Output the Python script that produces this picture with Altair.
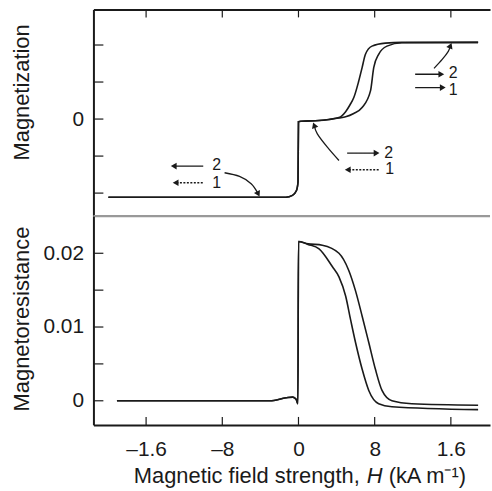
import altair as alt
import pandas as pd

FONT = "Liberation Sans"
INK = "#1a1a1a"

# ---------------- axes ----------------
x_domain = [-21.53, 20.11]
x_tick_values = [-16, -8, 0, 8, 16]
x_tick_labels = ["\u20131.6", "\u20138", "0", "8", "1.6"]
x_title_parts = ["Magnetic field strength,", "H", "(kA m\u207b\u00b9)"]

m_domain = [-2.623, 2.961]
m_tick_values = [-2, -1, 0, 1, 2]
m_label_values = [0]

mr_domain = [-0.00327, 0.02503]
mr_tick_values = [0, 0.005, 0.01, 0.015, 0.02]
mr_label_values = [0, 0.01, 0.02]

# ---------------- magnetization curves ----------------
mag_h_1 = [-19.96, -5.0, -1.32, -0.63, -0.21, -0.05, 0.0, 0.3, 2.16, 3.2, 4.25, 4.95, 5.4, 5.81, 6.3, 6.68, 7.03, 7.72, 9.12, 10.86, 18.86]
mag_m_1 = [-2.11, -2.11, -2.11, -2.06, -1.93, -1.70, -0.07, -0.06, -0.04, -0.01, 0.04, 0.20, 0.38, 0.58, 1.00, 1.39, 1.75, 1.97, 2.05, 2.07, 2.07]
mag_h_2 = [-19.96, -5.0, -1.32, -0.63, -0.21, -0.05, 0.0, 0.3, 2.16, 3.2, 4.25, 4.95, 5.8, 6.68, 7.56, 7.90, 8.42, 9.29, 10.86, 18.86]
mag_m_2 = [-2.11, -2.11, -2.11, -2.06, -1.93, -1.70, -0.07, -0.06, -0.04, -0.01, 0.03, 0.06, 0.15, 0.31, 0.76, 1.39, 1.75, 1.97, 2.06, 2.07]

# ---------------- magnetoresistance curves ----------------
mr_h_1 = [-19.06, -10.0, -3.0, -1.3, -0.6, -0.25, -0.06, 0.0, 1.0, 2.16, 3.55, 4.25, 4.95, 5.47, 5.99, 6.68, 7.38, 8.42, 9.81, 18.86]
mr_v_1 = [0.0, 0.0, 0.0, 0.0004, 0.0005, 0.0002, -0.0004, 0.0216, 0.0212, 0.0206, 0.0182, 0.0168, 0.0142, 0.0110, 0.0079, 0.0043, 0.0014, -0.0004, -0.0008, -0.0012]
mr_h_2 = [-19.06, -10.0, -3.0, -1.3, -0.6, -0.25, -0.06, 0.0, 1.0, 2.5, 4.25, 5.27, 5.99, 6.68, 7.38, 8.07, 8.77, 9.81, 11.9, 18.86]
mr_v_2 = [0.0, 0.0, 0.0, 0.0004, 0.0005, 0.0002, -0.0004, 0.0216, 0.0213, 0.0211, 0.0200, 0.0177, 0.0149, 0.0115, 0.0079, 0.0043, 0.0014, 0.0000, -0.0004, -0.0006]

# ---------------- annotations (top panel, data units) ----------------
shaft_h_start = [-10.0, -10.05, 5.11, 8.42, 12.25, 12.25]
shaft_h_end = [-13.1, -12.9, 8.2, 5.17, 15.0, 15.15]
shaft_m = [-1.27, -1.72, -0.92, -1.37, 1.21, 0.85]
shaft_style = ["solid", "dotted", "solid", "dotted", "solid", "solid"]
head_shape = ["triangle-left", "triangle-left", "triangle-right", "triangle-left", "triangle-right", "triangle-right"]

label_h = [-8.6, -8.6, 9.47, 9.57, 16.25, 16.25]
label_m = [-1.25, -1.72, -0.92, -1.36, 1.243, 0.785]
label_text = ["2", "1", "2", "1", "2", "1"]

pointer_id = ["a", "a", "a", "a", "b", "b", "b", "b", "c", "c", "c", "c"]
pointer_h = [-7.76, -6.19, -4.97, -4.27, 4.25, 3.03, 1.98, 1.68, 14.23, 15.09, 15.73, 15.92]
pointer_m = [-1.45, -1.55, -1.745, -2.0, -1.12, -0.76, -0.40, -0.19, 1.37, 1.61, 1.83, 1.96]
pointer_head_h = [-4.27, 1.68, 15.92]
pointer_head_m = [-2.0, -0.19, 1.96]
pointer_head_angle = [153, 340, 22]

# ---------------- data frames ----------------
mag_df = pd.concat([
    pd.DataFrame({"H": mag_h_1, "M": mag_m_1, "branch": "1"}),
    pd.DataFrame({"H": mag_h_2, "M": mag_m_2, "branch": "2"}),
])
mr_df = pd.concat([
    pd.DataFrame({"H": mr_h_1, "R": mr_v_1, "branch": "1"}),
    pd.DataFrame({"H": mr_h_2, "R": mr_v_2, "branch": "2"}),
])
shaft_df = pd.DataFrame({"H": shaft_h_start, "H2": shaft_h_end, "M": shaft_m, "style": shaft_style})
head_df = pd.DataFrame({"H": shaft_h_end, "M": shaft_m, "shape": head_shape})
label_df = pd.DataFrame({"H": label_h, "M": label_m, "t": label_text})
pointer_df = pd.DataFrame({"id": pointer_id, "H": pointer_h, "M": pointer_m, "i": list(range(len(pointer_h)))})
phead_df = pd.DataFrame({"H": pointer_head_h, "M": pointer_head_m, "ang": pointer_head_angle})

W = 399
H_TOP = 208
H_BOT = 210
TICK = 10
LABEL_FS = 21
TITLE_FS = 22

xs = alt.Scale(domain=x_domain, nice=False, zero=False)
ms = alt.Scale(domain=m_domain, nice=False, zero=False)
rs = alt.Scale(domain=mr_domain, nice=False, zero=False)

x_label_expr = " : ".join(
    f"datum.value == {v} ? '{l}'" for v, l in zip(x_tick_values, x_tick_labels)
) + " : ''"

# shared axis definitions (identical in every layer so they merge cleanly)
ax_top_x = alt.Axis(orient="top", labels=False, ticks=False, title=None, grid=False,
                    domainColor=INK, domainWidth=2)
ax_top_y = alt.Axis(values=m_label_values, ticks=False, grid=False, domainColor=INK, domainWidth=2,
                    labelPadding=10, title="Magnetization", titleX=-65, titleY=83,
                    titleBaseline="alphabetic", titleAngle=-90)
ax_bot_x = alt.Axis(values=x_tick_values, labelExpr=x_label_expr, ticks=False, grid=False,
                    domainColor=INK, domainWidth=2, labelPadding=14, title=None)
ax_bot_y = alt.Axis(values=mr_label_values,
                    labelExpr="datum.value == 0 ? '0' : format(datum.value, '.2f')",
                    ticks=False, grid=False, domainColor=INK, domainWidth=2, labelPadding=10,
                    title="Magnetoresistance", titleX=-65, titleY=103,
                    titleBaseline="alphabetic", titleAngle=-90)

TX = lambda: alt.X("H:Q", scale=xs, axis=ax_top_x)
TY = lambda: alt.Y("M:Q", scale=ms, axis=ax_top_y)
BX = lambda: alt.X("H:Q", scale=xs, axis=ax_bot_x)
BY = lambda: alt.Y("R:Q", scale=rs, axis=ax_bot_y)

# ---------------- top panel ----------------
top_main = alt.Chart(mag_df).mark_line(color=INK, strokeWidth=1.6, interpolate="monotone").encode(
    x=TX(), y=TY(), detail="branch:N")
top_xticks = alt.Chart(pd.DataFrame({"H": x_tick_values})).mark_rule(color=INK, strokeWidth=1.2).encode(
    x=TX(), y=alt.value(0), y2=alt.value(8))
top_yticks = alt.Chart(pd.DataFrame({"M": m_tick_values})).mark_rule(color=INK, strokeWidth=1.2).encode(
    y=TY(), x=alt.value(0), x2=alt.value(TICK))
divider = alt.Chart(pd.DataFrame({"k": [0]})).mark_rule(color="#999999", strokeWidth=2.4).encode(
    y=alt.value(H_TOP), x=alt.value(0), x2=alt.value(W))
shafts = alt.Chart(shaft_df).mark_rule(color=INK, strokeWidth=1.4).encode(
    x=TX(), x2="H2:Q", y=TY(),
    strokeDash=alt.StrokeDash("style:N", scale=alt.Scale(domain=["solid", "dotted"], range=[[1, 0], [2, 1.5]]), legend=None),
)
heads = alt.Chart(head_df).mark_point(filled=True, size=45, color=INK, opacity=1).encode(
    x=TX(), y=TY(), shape=alt.Shape("shape:N", scale=None, legend=None))
labels = alt.Chart(label_df).mark_text(font=FONT, fontSize=16, color=INK, align="center", baseline="middle").encode(
    x=TX(), y=TY(), text="t:N")
pointers = alt.Chart(pointer_df).mark_line(color=INK, strokeWidth=1.3, interpolate="cardinal").encode(
    x=TX(), y=TY(), detail="id:N", order="i:Q")
pheads = alt.Chart(phead_df).mark_point(shape="triangle", filled=True, size=45, color=INK, opacity=1).encode(
    x=TX(), y=TY(), angle=alt.Angle("ang:Q", scale=None))

top = alt.layer(top_main, top_xticks, top_yticks, divider, shafts, heads, labels, pointers, pheads).properties(
    width=W, height=H_TOP)

# ---------------- bottom panel ----------------
bot_main = alt.Chart(mr_df).mark_line(color=INK, strokeWidth=1.6, interpolate="monotone").encode(
    x=BX(), y=BY(), detail="branch:N")
bot_xticks = alt.Chart(pd.DataFrame({"H": x_tick_values})).mark_rule(color=INK, strokeWidth=1.2).encode(
    x=BX(), y=alt.value(H_BOT - 8), y2=alt.value(H_BOT))
bot_yticks = alt.Chart(pd.DataFrame({"R": mr_tick_values})).mark_rule(color=INK, strokeWidth=1.2).encode(
    y=BY(), x=alt.value(0), x2=alt.value(TICK))

# x-axis title in three runs so that H can be italic
TITLE_BASE = H_BOT + 58
title_a = alt.Chart(pd.DataFrame({"t": [x_title_parts[0]]})).mark_text(
    font=FONT, fontSize=TITLE_FS, color=INK, align="right", baseline="alphabetic").encode(
    text="t:N", x=alt.value(268), y=alt.value(TITLE_BASE))
title_b = alt.Chart(pd.DataFrame({"t": [x_title_parts[1]]})).mark_text(
    font=FONT, fontSize=TITLE_FS, fontStyle="italic", color=INK, align="center", baseline="alphabetic").encode(
    text="t:N", x=alt.value(283), y=alt.value(TITLE_BASE))
title_c = alt.Chart(pd.DataFrame({"t": [x_title_parts[2]]})).mark_text(
    font=FONT, fontSize=TITLE_FS, color=INK, align="left", baseline="alphabetic").encode(
    text="t:N", x=alt.value(297), y=alt.value(TITLE_BASE))

bottom = alt.layer(bot_main, bot_xticks, bot_yticks, title_a, title_b, title_c).properties(width=W, height=H_BOT)

chart = alt.vconcat(top, bottom, spacing=0, bounds="flush").properties(
    padding={"left": 10, "top": 7, "right": 0, "bottom": 0}
).configure_view(stroke=None).configure_axis(
    labelFont=FONT, titleFont=FONT, labelFontSize=LABEL_FS, titleFontSize=TITLE_FS,
    labelColor=INK, titleColor=INK, titleFontWeight="normal",
)

chart.save("out.html", embed_options={"renderer": "svg", "actions": False})
